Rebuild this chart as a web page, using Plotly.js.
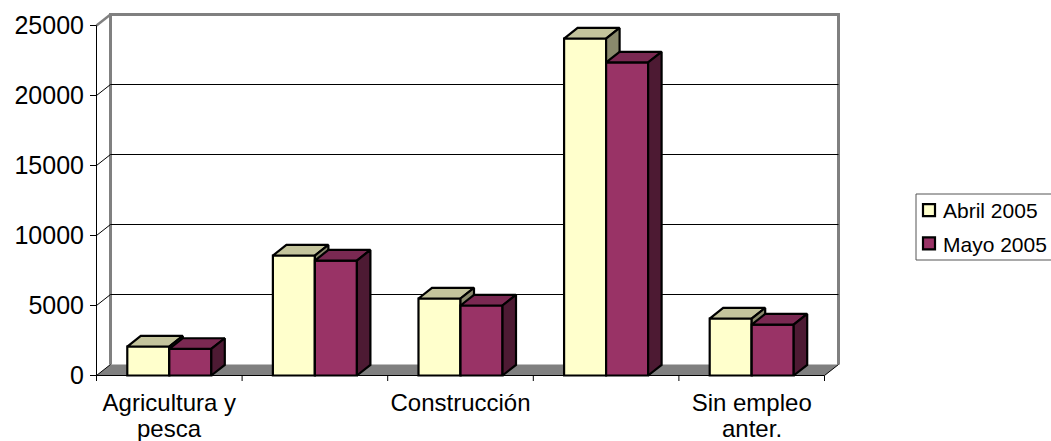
<!DOCTYPE html>
<html><head><meta charset="utf-8">
<script src="https://cdn.plot.ly/plotly-3.0.1.min.js"></script>
<style>html,body{margin:0;padding:0;background:#fff;overflow:hidden}</style>
</head><body><div id="chart" style="width:1051px;height:441px"></div>
<script>
const labelPositions = [0.5, 2.5, 4.5];
const labelTexts = ["Agricultura y", "Construcción", "Sin empleo"];
const secondLinePositions = [0.5, 4.5];
const secondLineTexts = ["pesca", "anter."];
const categoryCentres = [0.5, 1.5, 2.5, 3.5, 4.5];
const abril2005 = [2070, 8570, 5500, 24070, 4070];
const mayo2005 = [1900, 8210, 5000, 22360, 3640];
const valueTicks = [0, 5000, 10000, 15000, 20000, 25000];
const categoryEdges = [0, 1, 2, 3, 4, 5];

const PX_X = 145.6, PX_Y = 0.014;
const L = 90, R = 845, T = 9, B = 381, X0 = 96.5, Y0 = 375.5;
const xRange = [(L - X0) / PX_X, (R - X0) / PX_X];
const yRange = [(Y0 - B) / PX_Y, (Y0 - T) / PX_Y];
const wallDx = 14 / PX_X, wallDy = 11 / PX_Y, wallTop = 25786, wallRight = 5 + wallDx;
const barDx = 0.0927, barDy = 760, barW = 0.2885;
const FONT = "Liberation Sans, Arial, sans-serif";
const xTickLen = -(B - Y0) / PX_Y, yTickLen = (L - X0) / PX_X;

function faces(values, centres, xaxis, yaxis, topColor, sideColor) {
  const tx = [], ty = [], sx = [], sy = [];
  values.forEach((v, i) => {
    const a = centres[i] - barW / 2, b = centres[i] + barW / 2;
    tx.push(a, b, b + barDx, a + barDx, a, null);
    ty.push(v, v, v + barDy, v + barDy, v, null);
    sx.push(b, b + barDx, b + barDx, b, b, null);
    sy.push(0, barDy, v + barDy, v, 0, null);
  });
  const base = {type: 'scatter', mode: 'lines', fill: 'toself', xaxis, yaxis, showlegend: false,
    hoverinfo: 'skip', line: {color: '#000', width: 2.2}};
  return [Object.assign({}, base, {x: tx, y: ty, fillcolor: topColor}),
          Object.assign({}, base, {x: sx, y: sy, fillcolor: sideColor})];
}
function bar(name, values, centres, color, xaxis, yaxis) {
  return {type: 'bar', name, legendgroup: name, x: centres, y: values, width: barW, xaxis, yaxis,
    marker: {color, line: {color: '#000', width: 2.2}}};
}
const abrilX = categoryCentres.map(c => c - barW / 2);
const mayoX = categoryCentres.map(c => c + barW / 2);
const data = [
  bar('Abril 2005', abril2005, abrilX, '#FFFFCC', 'x', 'y'),
  ...faces(abril2005, abrilX, 'x', 'y', '#C4C49C', '#8A8A6C'),
  bar('Mayo 2005', mayo2005, mayoX, '#993366', 'x2', 'y2'),
  ...faces(mayo2005, mayoX, 'x2', 'y2', '#7A2952', '#4D1A33')
];

const line = (x0, y0, x1, y1, color, width) => ({type: 'line', layer: 'below', xref: 'x', yref: 'y',
  x0, y0, x1, y1, line: {color, width}});
const shapes = [
  {type: 'path', layer: 'below', xref: 'x', yref: 'y',
   path: `M0,0 L${wallDx},${wallDy} L${wallRight},${wallDy} L5,0 Z`, fillcolor: '#808080', line: {width: 0}},
  line(wallDx, wallDy, wallDx, wallTop, '#808080', 3),
  line(wallDx - 0.01, wallTop, wallRight + 0.01, wallTop, '#808080', 3),
  line(wallRight, wallDy, wallRight, wallTop, '#808080', 3),
  line(0, 25000, wallDx, wallTop, '#808080', 2.5),
  line(0, 0, 0, 25000, '#000', 1),
  line(0, 0, 5, 0, '#000', 1),
  line(0, 0, wallDx, wallDy, '#000', 1),
  line(5, 0, wallRight, wallDy, '#000', 1)
];
valueTicks.forEach(v => {
  shapes.push(line(yTickLen, v, 0, v, '#000', 1));
  if (v > 0 && v < 25000) {
    shapes.push(line(0, v, wallDx, v + wallDy, '#000', 1));
    shapes.push(line(wallDx, v + wallDy, wallRight, v + wallDy, '#000', 1));
  }
});
categoryEdges.forEach(e => shapes.push(line(e, xTickLen, e, 0, '#000', 1)));
const PW = R - L, PH = B - T;
const paperX = px => (px - L) / PW, paperY = py => (B - py) / PH;
shapes.push({type: 'rect', layer: 'above', xref: 'paper', yref: 'paper',
  x0: paperX(916), x1: paperX(1060), y0: paperY(260), y1: paperY(194),
  fillcolor: 'rgba(0,0,0,0)', line: {color: '#555', width: 1}});

const layout = {
  width: 1051, height: 441, paper_bgcolor: '#fff', plot_bgcolor: '#fff',
  margin: {l: L, r: 1051 - R, t: T, b: 441 - B, autoexpand: false},
  font: {family: FONT, color: '#000'},
  barmode: 'overlay',
  xaxis: {range: xRange, showgrid: false, zeroline: false, showline: false,
    tickmode: 'array', tickvals: labelPositions, ticktext: labelTexts, ticks: '',
    tickangle: 0, ticklabelstandoff: 5, tickfont: {family: FONT, size: 24, color: '#000'}},
  yaxis: {range: yRange, showgrid: false, zeroline: false, showline: false,
    tickmode: 'array', tickvals: valueTicks, ticktext: valueTicks.map(String), ticks: '',
    ticklabelstandoff: 5, tickfont: {family: FONT, size: 25, color: '#000'}},
  xaxis2: {range: xRange, overlaying: 'x', visible: false},
  yaxis2: {range: yRange, overlaying: 'y', visible: false},
  showlegend: true,
  legend: {x: paperX(903), xanchor: 'left', y: paperY(190), yanchor: 'top',
    bgcolor: 'rgba(0,0,0,0)', borderwidth: 0, tracegroupgap: 3, traceorder: 'grouped',
    font: {family: FONT, size: 21, color: '#000'}},
  annotations: secondLineTexts.map((text, i) => ({text, xref: 'x', x: secondLinePositions[i],
    yref: 'paper', y: paperY(428), yanchor: 'middle', xanchor: 'center', showarrow: false,
    font: {family: FONT, size: 24, color: '#000'}})),
  shapes
};
Plotly.newPlot('chart', data, layout, {displayModeBar: false, staticPlot: true}).then(() => {
  document.querySelectorAll('.legendsymbols').forEach(g => g.setAttribute('transform', 'translate(6,0)'));
});
</script></body></html>
